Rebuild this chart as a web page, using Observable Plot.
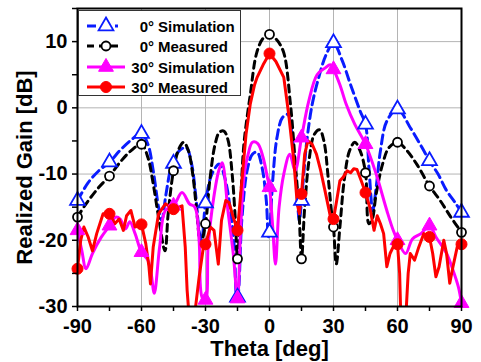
<!DOCTYPE html>
<html>
<head>
<meta charset="utf-8">
<script src="https://cdn.jsdelivr.net/npm/d3@7"></script>
<script src="https://cdn.jsdelivr.net/npm/@observablehq/plot@0.6"></script>
<style>
  html, body { margin: 0; padding: 0; background: white; }
  #wrap { position: relative; width: 481px; height: 362px; }
  #legend { position: absolute; left: 78px; top: 10px; }
</style>
</head>
<body>
<div id="wrap"></div>
<script>
// Marker angles (deg)
const markerTheta = [-90, -75, -60, -45, -30, -15, 0, 15, 30, 45, 60, 75, 90];
// Marker values (dB)
const sim0Marks   = [-14, -8.2, -3.9, -8.4, -14.4, -28.6, -18.8, -14, 9.8, -2.5, -0.2, -8, -15.8];
const meas0Marks  = [-16.5, -10.3, -5.5, -9.5, -17.5, -22.8, 11.1, -22.8, -18, -9.8, -5.2, -11.8, -18.8];
const sim30Marks  = [-18.5, -17.8, -21.8, -14.8, -29, -28.8, -12, -4.5, 5.8, -5.5, -20, -17.8, -29.5];
const meas30Marks = [-24.3, -16, -17.6, -15.3, -20.6, -18.5, 8.2, -13, -16.8, -12.8, -20.6, -19.5, -20.6];

// Curves [theta, gain]
const sim0Curve = [[-90,-14],[-85,-11.3],[-80,-9.5],[-75,-8.2],[-70,-6.4],[-65,-4.9],[-60,-3.9],[-57,-5.5],[-54.5,-9.5],[-52,-15],[-50.5,-17],[-48.5,-13],[-45.6,-8.4],[-42,-6.4],[-39,-6],[-36.5,-8.5],[-34.5,-13.5],[-32.8,-19],[-31.8,-20],[-30,-14.4],[-27,-10],[-23.5,-8.5],[-21,-10.5],[-18.5,-15],[-16.5,-21],[-15.3,-28.6],[-15,-28.6],[-13,-17],[-10.5,-9.5],[-8,-7],[-5.8,-6.7],[-3.5,-9],[-1.5,-14],[-0.5,-19.5],[0,-18.8],[1.5,-11],[3.5,-4.5],[6,-1.5],[8.5,-1],[10.5,-4],[12.5,-11],[14,-17],[15,-14],[17.5,-5],[20,0.5],[23,4.5],[26.5,8],[30,9.8],[34,7.2],[38,3.5],[42.5,-0.5],[45,-2.5],[46.6,-9],[48.4,-15.5],[50,-12],[52,-6.5],[55,-2],[60,-0.2],[66,-3],[71.5,-6],[75,-8],[79,-10],[83,-12.5],[87,-14.3],[90,-15.8]];

const meas0Curve = [[-90,-16.5],[-86,-14.5],[-80,-12],[-75,-10.3],[-70,-8.2],[-65,-6.5],[-60,-5.5],[-57,-7.5],[-54.5,-11.5],[-52,-16.5],[-49,-21.6],[-47.5,-16],[-45,-9.5],[-42.5,-6.2],[-40.2,-5.2],[-38,-6.5],[-36,-10],[-34,-16],[-32.3,-20.6],[-30,-17.5],[-28,-11],[-25.5,-5.5],[-23.5,-3.7],[-21.4,-3.5],[-19.5,-4.8],[-17.5,-10],[-16,-17],[-15,-22.8],[-13.5,-14],[-12,-5.5],[-9,2],[-6,8.3],[-3,10.5],[0,11.1],[3,10.4],[6.5,8.5],[9.8,0.6],[12,-8],[13.8,-15.5],[15,-22.8],[16.5,-15],[18.5,-8],[21,-4],[23.5,-3.3],[25.5,-5],[27.5,-10.5],[29,-15.5],[30,-18],[31.3,-23.6],[33,-18],[35,-11],[37.5,-6.5],[40,-5.2],[42.5,-6.5],[45,-9.8],[46.6,-17.5],[48,-17],[50,-13],[53,-8.5],[56,-6],[60,-5.2],[64,-6.3],[69,-8.5],[75,-11.8],[80,-14],[85,-16.5],[90,-18.8]];

const sim30Curve = [[-90,-18.5],[-88,-21.5],[-86,-24.3],[-83,-22],[-79,-19.6],[-75,-17.8],[-72,-16.5],[-70,-16.8],[-67.5,-18.3],[-65.5,-17.2],[-63,-19],[-60,-21.8],[-57,-23],[-55.5,-25],[-54,-28],[-51.5,-21],[-48.8,-15.5],[-45,-14.8],[-41,-12.8],[-37.5,-14.5],[-35,-15],[-33,-20],[-31.6,-28.6],[-30,-29],[-28.8,-21],[-27,-15.5],[-23.8,-9.5],[-22.2,-8.3],[-19.5,-15.5],[-17,-22],[-15,-28.8],[-13.5,-18],[-12,-10.5],[-10,-7],[-8,-5.2],[-5.5,-5.4],[-3,-7.5],[-1,-10.5],[0,-12],[1.5,-18],[2.8,-23.6],[4.5,-15],[6.7,-10],[9.5,-7],[12,-9.5],[15,-4.5],[18.4,1],[22.3,5],[26,6],[28.5,6.5],[30,5.8],[33,3.5],[36,0.5],[40,-2.5],[45,-5.5],[50,-10],[55,-15.5],[58,-18.5],[60,-20],[63.8,-22],[67,-19.8],[71,-19],[75,-17.8],[78,-19.5],[83,-22],[86,-24.5],[88.5,-27],[90,-29.5]];

const meas30Curve = [[-90,-24.3],[-88.5,-20],[-87,-18],[-85,-19.5],[-83,-21.6],[-81,-19],[-78,-16],[-75,-16],[-72.5,-17.5],[-70.5,-16.8],[-68.5,-18.5],[-67,-16.3],[-65,-15.5],[-63,-18],[-60,-17.6],[-58,-20.5],[-56.5,-24],[-55.8,-26.6],[-54.5,-21],[-52,-16],[-48.8,-14.5],[-45,-15.3],[-41,-14.8],[-39.5,-21],[-38.6,-27.6],[-37.8,-31],[-35,-31],[-33,-25.6],[-30.8,-20.6],[-30,-20.6],[-27.7,-18],[-26,-18.5],[-24,-23.6],[-22.5,-17],[-20.5,-14],[-19,-14.3],[-17,-16.5],[-15,-18.5],[-12.8,-10.5],[-11,-4],[-9,0.6],[-7,3.5],[-5.8,4.6],[-3,6.5],[0,8.2],[3,7],[6.7,4.6],[9,-1],[11.4,-8],[13,-14.5],[14,-16],[15,-13],[16.5,-7],[18,-5],[20,-5.5],[22,-7],[24,-9.5],[26,-12.5],[28.6,-16.5],[30,-16.8],[31.5,-14],[33,-11],[34.5,-10.5],[36.4,-9.5],[38,-9.8],[39.5,-9.2],[41,-9.3],[43,-11],[45,-12.8],[47,-15],[49,-18.5],[50.5,-16.3],[52,-17.5],[53.5,-19],[55,-24],[56.5,-22],[58,-21],[60,-20.6],[61,-25],[61.5,-31],[64,-31],[65,-25],[66,-22],[68,-23],[70,-21],[72.3,-19],[75,-19.5],[76.5,-22],[78,-25.5],[79.5,-24],[81.7,-20],[83,-22],[84.5,-26.5],[86,-24],[88,-21],[90,-20.6]];

const legendLabels = [["0°", "Simulation"], ["0°", "Measured"], ["30°", "Simulation"], ["30°", "Measured"]];
const xTicks = d3.range(-90, 91, 15);
const yTicks = d3.range(-30, 16, 5);

const BLUE = "#0a1cff", BLACK = "#000", MAGENTA = "#ff00ff", RED = "#ff0000";
const toPts = (xs, ys) => xs.map((x, i) => ({x, y: ys[i]}));
const toCurve = arr => arr.map(([x, y]) => ({x, y}));

const chart = Plot.plot({
  width: 481,
  height: 362,
  marginLeft: 77,
  marginRight: 20,
  marginTop: 8,
  marginBottom: 56,
  style: {fontFamily: "'Liberation Sans', Arial, sans-serif", fontWeight: "bold", fontSize: "20px", background: "white", color: "black", overflow: "visible"},
  x: {domain: [-90, 90]},
  y: {domain: [-30, 15]},
  marks: [
    Plot.gridX([-60, -30, 0, 30, 60], {stroke: "#b4b4b4", strokeOpacity: 1, strokeWidth: 1}),
    Plot.gridY([-20, -10, 0, 10], {stroke: "#b4b4b4", strokeOpacity: 1, strokeWidth: 1}),
    Plot.line(toCurve(sim0Curve), {x: "x", y: "y", stroke: BLUE, strokeWidth: 3, strokeDasharray: "9,5", curve: "catmull-rom", clip: true}),
    Plot.line(toCurve(meas0Curve), {x: "x", y: "y", stroke: BLACK, strokeWidth: 3, strokeDasharray: "7,5", curve: "catmull-rom", clip: true}),
    Plot.line(toCurve(sim30Curve), {x: "x", y: "y", stroke: MAGENTA, strokeWidth: 3, curve: "catmull-rom", clip: true}),
    Plot.line(toCurve(meas30Curve), {x: "x", y: "y", stroke: RED, strokeWidth: 3, clip: true}),
    Plot.dot(toPts(markerTheta, sim0Marks), {x: "x", y: "y", symbol: "triangle", r: 5.5, stroke: BLUE, strokeWidth: 1.8, fill: "white"}),
    Plot.dot(toPts(markerTheta, meas0Marks), {x: "x", y: "y", symbol: "circle", r: 4.5, stroke: BLACK, strokeWidth: 1.8, fill: "white"}),
    Plot.dot(toPts(markerTheta, sim30Marks), {x: "x", y: "y", symbol: "triangle", r: 5.5, fill: MAGENTA, stroke: MAGENTA, strokeWidth: 1}),
    Plot.dot(toPts(markerTheta, meas30Marks), {x: "x", y: "y", symbol: "circle", r: 5.5, fill: RED, stroke: RED, strokeWidth: 1}),
    Plot.frame({stroke: "black", strokeWidth: 2}),
    Plot.axisX({ticks: xTicks, tickSize: 5, tickPadding: 7, tickFormat: d => d % 30 === 0 ? String(d) : "", label: null, fontSize: 20, fontWeight: "bold", strokeWidth: 1.5}),
    Plot.axisY({ticks: yTicks, tickSize: 5, tickPadding: 5, tickFormat: d => (d % 10 === 0 && d <= 10) ? String(d) : "", label: null, fontSize: 20, fontWeight: "bold", strokeWidth: 1.5}),
    Plot.text(["Theta [deg]"], {frameAnchor: "bottom", dy: 49, fontSize: 22, fontWeight: "bold"}),
    Plot.text(["Realized Gain [dB]"], {frameAnchor: "left", textAnchor: "middle", lineAnchor: "middle", rotate: -90, dx: -53, dy: 10, fontSize: 22, fontWeight: "bold"})
  ]
});

const wrap = document.getElementById("wrap");
wrap.appendChild(chart);

// Legend overlay
const colors = [BLUE, BLACK, MAGENTA, RED];
const dashes = ["9,5", "7,5", null, null];
const rowY = [16, 36, 57, 77];
const lg = d3.select(wrap).append("svg").attr("id", "legend")
  .attr("width", 163).attr("height", 86)
  .style("font-family", "'Liberation Sans', Arial, sans-serif").style("font-weight", "bold");
lg.append("rect").attr("x", 0.5).attr("y", 0.5).attr("width", 162).attr("height", 85)
  .attr("fill", "white").attr("stroke", "#333").attr("stroke-width", 1);
legendLabels.forEach(([num, name], i) => {
  const g = lg.append("g");
  const y = rowY[i];
  g.append("line").attr("x1", 9).attr("x2", i < 2 ? 40 : 47).attr("y1", y).attr("y2", y)
    .attr("stroke", colors[i]).attr("stroke-width", 3).attr("stroke-dasharray", dashes[i]);
  const cx = 28;
  if (i === 0 || i === 2) {
    const sym = d3.symbol(d3.symbolTriangle, 5.5 * 5.5 * Math.PI)();
    g.append("path").attr("d", sym).attr("transform", `translate(${cx},${y})`)
      .attr("fill", i === 0 ? "white" : MAGENTA).attr("stroke", colors[i]).attr("stroke-width", i === 0 ? 1.8 : 1);
  } else {
    g.append("circle").attr("cx", cx).attr("cy", y).attr("r", i === 1 ? 4.5 : 5.5)
      .attr("fill", i === 1 ? "white" : RED).attr("stroke", colors[i]).attr("stroke-width", i === 1 ? 1.8 : 1);
  }
  g.append("text").attr("x", 76).attr("y", y + 5.5).attr("text-anchor", "end").attr("font-size", 15).text(num);
  g.append("text").attr("x", 80).attr("y", y + 5.5).attr("text-anchor", "start").attr("font-size", 15).text(name);
});
</script>
</body>
</html>
